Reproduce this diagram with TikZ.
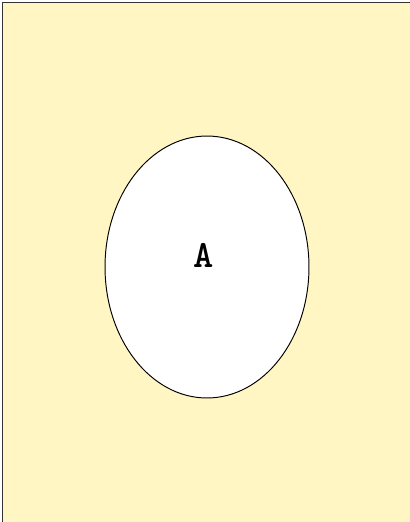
\documentclass[tikz,border=0pt]{standalone}
\usepackage{tikz}
\usetikzlibrary{shapes.geometric}
\definecolor{paleyellow}{HTML}{FFF6C4}

\begin{document}
\begin{tikzpicture}[
    x=0.02cm, y=-0.02cm,
    setbox/.style = {ellipse, draw=black, fill=white, line width=0.55pt, minimum width=4.08cm, minimum height=5.24cm, inner sep=0pt},
    setlabel/.style = {font=\ttfamily\bfseries\fontsize{22}{24}\selectfont}
]

% Universe
\useasboundingbox (0,0) rectangle (410,522);
\fill [paleyellow] (2,2) rectangle (410,522);
\draw [black!80, line width=0.6pt] (2.5,522) -- (2.5,2.5) -- (410,2.5);

% Set A
\node (s_a) [setbox] at (207,267) {};
\node (l_a) [setlabel] at (204,255) {A};

\end{tikzpicture}
\end{document}
